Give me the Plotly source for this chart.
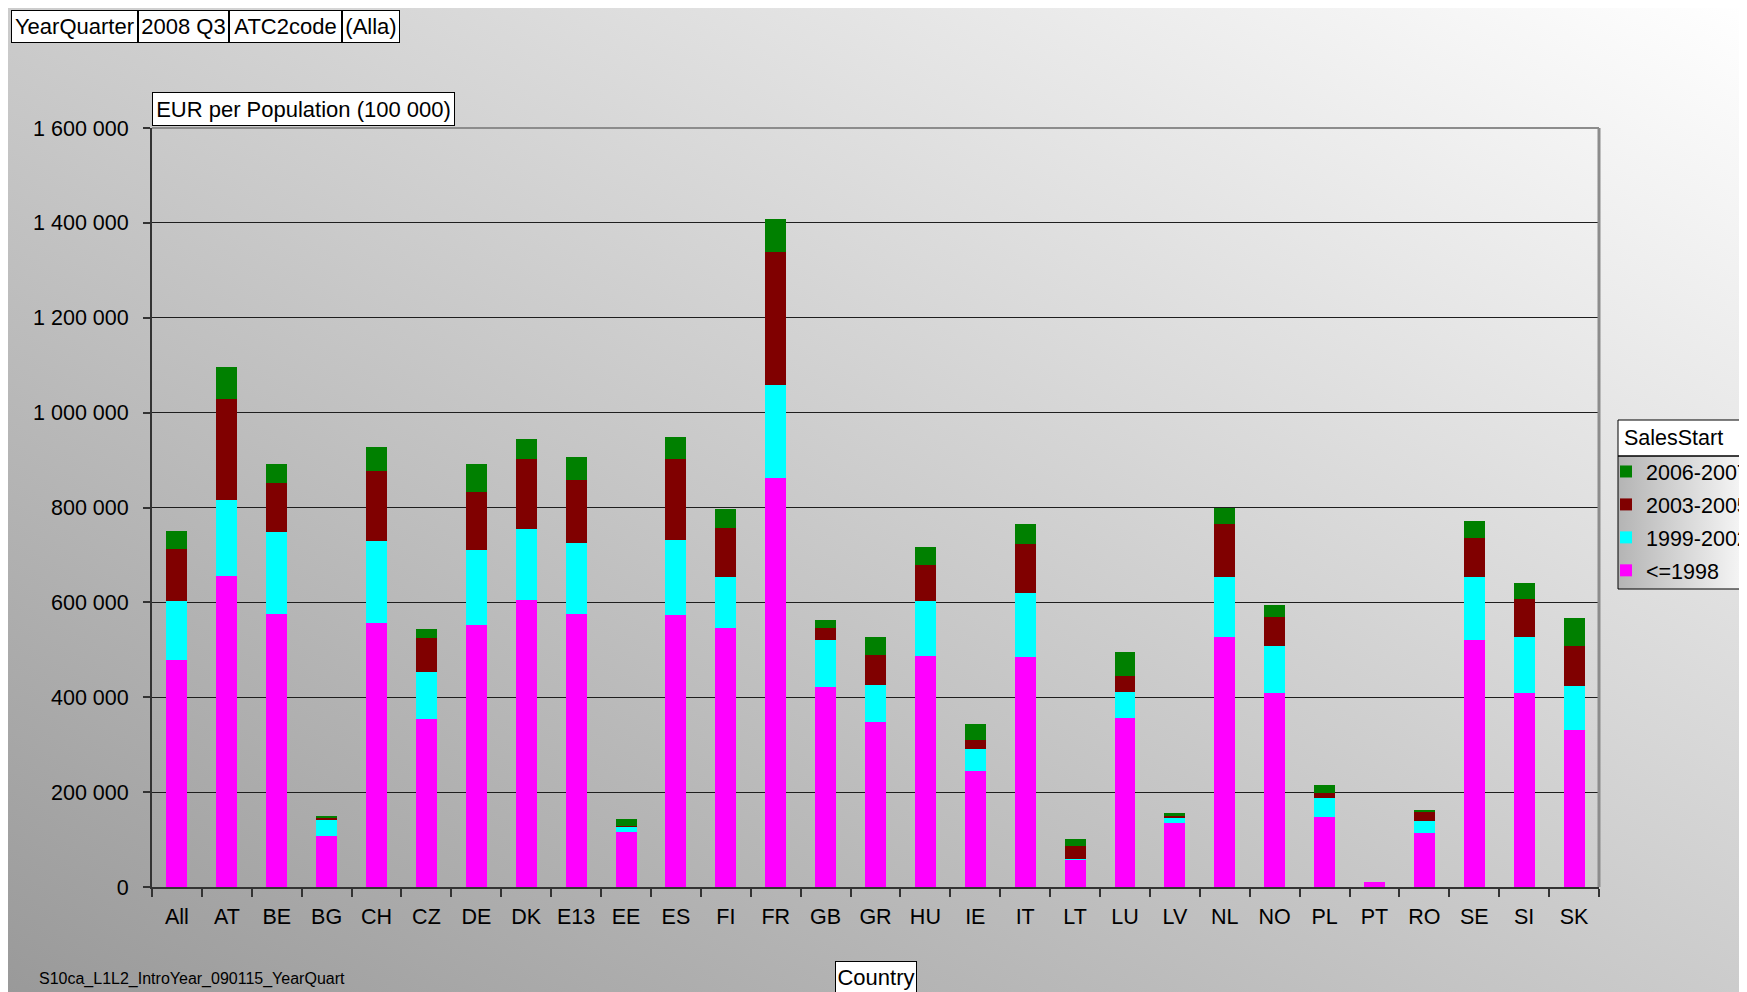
import base64
import plotly.graph_objects as go

# ---------------- data ----------------
categories = ["All", "AT", "BE", "BG", "CH", "CZ", "DE", "DK", "E13", "EE", "ES", "FI", "FR",
              "GB", "GR", "HU", "IE", "IT", "LT", "LU", "LV", "NL", "NO", "PL", "PT", "RO",
              "SE", "SI", "SK"]

sales_le_1998 = [479000, 656000, 575000, 107000, 556000, 354000, 552000, 604000, 575000, 116000,
                 573000, 545000, 862000, 421000, 347000, 487000, 245000, 484000, 57000, 356000,
                 134000, 526000, 408000, 147000, 10000, 113000, 521000, 408000, 332000]
sales_1999_2002 = [123000, 159000, 173000, 34000, 173000, 99000, 158000, 150000, 150000, 12000,
                   158000, 109000, 197000, 99000, 79000, 116000, 45000, 136000, 3000, 56000,
                   11000, 128000, 99000, 40000, 0, 27000, 133000, 118000, 91000]
sales_2003_2005 = [110000, 213000, 103000, 6000, 147000, 71000, 122000, 148000, 134000, 1000,
                   172000, 103000, 279000, 25000, 63000, 75000, 19000, 103000, 27000, 32000,
                   6000, 112000, 63000, 12000, 0, 19000, 82000, 82000, 86000]
sales_2006_2007 = [38000, 68000, 40000, 2000, 51000, 19000, 59000, 42000, 47000, 14000,
                   46000, 40000, 70000, 17000, 37000, 39000, 35000, 42000, 15000, 51000,
                   4000, 33000, 25000, 15000, 0, 2000, 36000, 33000, 59000]

series_names = ["<=1998", "1999-2002", "2003-2005", "2006-2007"]
series_values = [sales_le_1998, sales_1999_2002, sales_2003_2005, sales_2006_2007]
series_colors = ["#FF00FF", "#00FFFF", "#800000", "#008000"]

y_ticks = [0, 200000, 400000, 600000, 800000, 1000000, 1200000, 1400000, 1600000]
filter_labels = ["YearQuarter", "2008 Q3", "ATC2code", "(Alla)"]
legend_title = "SalesStart"

# ---------------- geometry (screen pixels; page body has an 8px margin) ----------------
OFF = 8
W, H = 1747, 992
L, R, T, B = 152, 1599, 128, 887
PW, PH = R - L, B - T
FONT = "Liberation Sans, Arial, Helvetica, sans-serif"


def px(x):
    return (x - L) / PW


def py(y):
    return (B - y) / PH


def svg_uri(svg):
    return "data:image/svg+xml;base64," + base64.b64encode(svg.encode()).decode()


bg_svg = ('<svg xmlns="http://www.w3.org/2000/svg" width="100" height="100" viewBox="0 0 100 100" '
          'preserveAspectRatio="none"><defs><linearGradient id="g" x1="0" y1="1" x2="1" y2="0">'
          '<stop offset="0" stop-color="#999999"/><stop offset="1" stop-color="#ffffff"/>'
          '</linearGradient></defs><rect width="100" height="100" fill="url(#g)"/></svg>')
leg_svg = ('<svg xmlns="http://www.w3.org/2000/svg" width="100" height="100" viewBox="0 0 100 100" '
           'preserveAspectRatio="none"><defs><linearGradient id="g" x1="0" y1="0" x2="1" y2="0">'
           '<stop offset="0" stop-color="#b4b4b4"/><stop offset="1" stop-color="#ffffff"/>'
           '</linearGradient></defs><rect width="100" height="100" fill="url(#g)"/></svg>')

fig = go.Figure()
n = len(series_names)
for i, (name, vals, col) in enumerate(zip(series_names, series_values, series_colors)):
    fig.add_trace(go.Bar(x=categories, y=vals, name=name, legendgroup=name,
                         legendrank=100 * (n - i),
                         marker=dict(color=col, line=dict(width=0))))

images = [
    dict(source=svg_uri(bg_svg), xref="paper", yref="paper", x=px(OFF), y=py(OFF),
         sizex=W / PW, sizey=H / PH, sizing="stretch",
         xanchor="left", yanchor="top", layer="below"),
    dict(source=svg_uri(leg_svg), xref="paper", yref="paper", x=px(1618), y=py(456),
         sizex=(1760 - 1618) / PW, sizey=(589 - 456) / PH, sizing="stretch",
         xanchor="left", yanchor="top", layer="below"),
]

shapes = [
    dict(type="line", xref="paper", yref="paper", x0=1, x1=1, y0=0, y1=1,
         line=dict(color="#8c8c8c", width=3), layer="above"),
    dict(type="line", xref="paper", yref="paper", x0=0, x1=1, y0=1, y1=1,
         line=dict(color="#8c8c8c", width=2), layer="above"),
    dict(type="rect", xref="paper", yref="paper", x0=px(1618), x1=px(1760), y0=py(456), y1=py(420),
         fillcolor="white", line=dict(color="black", width=1), layer="above"),
    dict(type="rect", xref="paper", yref="paper", x0=px(1618), x1=px(1760), y0=py(589), y1=py(456),
         fillcolor="rgba(0,0,0,0)", line=dict(color="black", width=1), layer="above"),
]

annotations = []
box_edges = [11, 138, 229, 342, 400]
for i, txt in enumerate(filter_labels):
    x0, x1 = box_edges[i], box_edges[i + 1]
    annotations.append(dict(text=txt, xref="paper", yref="paper", x=px((x0 + x1) / 2), y=py(26.5),
                            xanchor="center", yanchor="middle", showarrow=False,
                            bgcolor="white", bordercolor="black", borderwidth=1, borderpad=0,
                            width=x1 - x0 - 2, height=31, font=dict(size=22)))
annotations.append(dict(text="EUR per Population (100 000)", xref="paper", yref="paper",
                        x=px(303.5), y=py(109), xanchor="center", yanchor="middle", showarrow=False,
                        bgcolor="white", bordercolor="black", borderwidth=1, borderpad=0,
                        width=301, height=32, font=dict(size=22)))
annotations.append(dict(text="Country", xref="paper", yref="paper",
                        x=px(876), y=py(977), xanchor="center", yanchor="middle", showarrow=False,
                        bgcolor="white", bordercolor="black", borderwidth=1, borderpad=0,
                        width=80, height=30, font=dict(size=22)))
annotations.append(dict(text="S10ca_L1L2_IntroYear_090115_YearQuart", xref="paper", yref="paper",
                        x=px(37), y=py(979), xanchor="left", yanchor="middle", showarrow=False,
                        font=dict(size=16)))
annotations.append(dict(text=legend_title, xref="paper", yref="paper",
                        x=px(1622), y=py(438), xanchor="left", yanchor="middle", showarrow=False,
                        font=dict(size=21.5)))

fig.update_layout(
    width=W, height=H, autosize=False,
    margin=dict(l=L - OFF, r=W - (R - OFF), t=T - OFF, b=H - (B - OFF), pad=0, autoexpand=False),
    paper_bgcolor="white", plot_bgcolor="rgba(0,0,0,0)",
    font=dict(family=FONT, color="black", size=21.5),
    separators=". ",
    barmode="stack", bargap=0.58,
    images=images, shapes=shapes, annotations=annotations,
    legend=dict(x=px(1606), y=py(451), xanchor="left", yanchor="top",
                bgcolor="rgba(0,0,0,0)", borderwidth=0,
                traceorder="grouped", tracegroupgap=2,
                font=dict(size=21.5, family=FONT)),
    xaxis=dict(type="category", categoryorder="array", categoryarray=categories,
               showline=True, linecolor="#333333", linewidth=2,
               ticks="outside", tickson="boundaries", ticklen=8, tickwidth=1.5, tickcolor="#333333",
               tickfont=dict(size=21.5), ticklabelstandoff=9, showgrid=False),
    yaxis=dict(range=[0, 1600000], tickvals=y_ticks, tickformat=",d",
               showgrid=True, gridcolor="#1e1e1e", gridwidth=1,
               showline=True, linecolor="#333333", linewidth=2, zeroline=False,
               ticks="outside", ticklen=7, tickwidth=1.5, tickcolor="#333333",
               tickfont=dict(size=21.5), ticklabelstandoff=10),
)

fig.write_html("out.html")
